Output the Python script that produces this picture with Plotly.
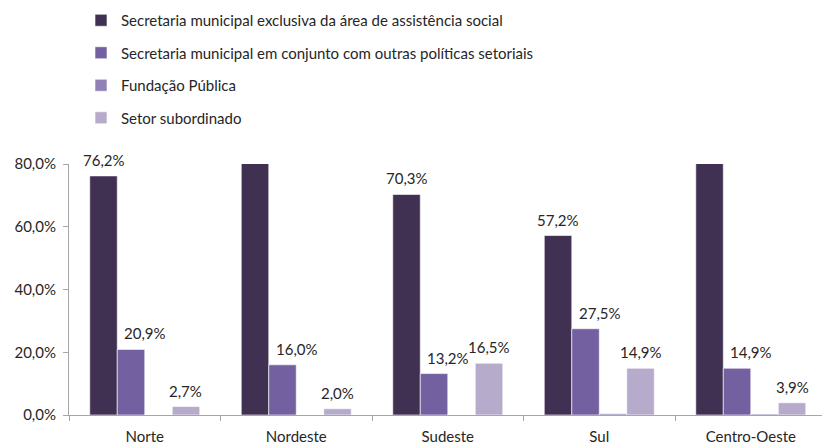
import plotly.graph_objects as go

# Regions and share of municipalities by type of management body (%)
regioes = ["Norte", "Nordeste", "Sudeste", "Sul", "Centro-Oeste"]
series_nomes = [
    "Secretaria municipal exclusiva da área de assistência social",
    "Secretaria municipal em conjunto com outras políticas setoriais",
    "Fundação Pública",
    "Setor subordinado",
]
sec_exclusiva = [76.2, 82.0, 70.3, 57.2, 80.9]
sec_conjunto = [20.9, 16.0, 13.2, 27.5, 14.9]
fundacao = [0.0, 0.0, 0.0, 0.4, 0.3]
setor_subordinado = [2.7, 2.0, 16.5, 14.9, 3.9]

valores = [sec_exclusiva, sec_conjunto, fundacao, setor_subordinado]
cores = ["#403152", "#7360A0", "#8F80B5", "#B6ABCB"]

Y_MAX = 80.0
FONTE = "Lato, 'Open Sans', sans-serif"
COR_TEXTO = "#262626"
TAM = 15

fig = go.Figure()
for i, (nome, vals, cor) in enumerate(zip(series_nomes, valores, cores)):
    fig.add_trace(go.Bar(
        x=regioes, y=vals, name=nome,
        marker=dict(color=cor, line=dict(color="white", width=0.6)),
        legendgroup=f"g{i}",
    ))

# Value labels above bars (skipped for bars cut at the axis top and for empty bars)
n = len(series_nomes)
cat_px = 151.5
grupo_px = cat_px * (1 - 0.274)
bar_px = grupo_px / n
desloc_extra = [0, 14, 0, 0]
for i, vals in enumerate(valores):
    if i == 2:
        continue
    xs = (i - (n - 1) / 2) * bar_px + desloc_extra[i]
    for reg, v in zip(regioes, vals):
        if v > Y_MAX:
            continue
        fig.add_annotation(
            x=reg, y=v, text=f"{v:.1f}%".replace(".", ","),
            showarrow=False, xshift=xs, yshift=16, yanchor="middle",
            font=dict(size=TAM, color=COR_TEXTO, family=FONTE),
        )

fig.update_layout(
    width=822, height=445,
    margin=dict(l=69, r=0, t=164, b=30),
    paper_bgcolor="white", plot_bgcolor="white",
    barmode="group", bargap=0.274, bargroupgap=0,
    separators=",.",
    font=dict(family=FONTE, size=TAM, color=COR_TEXTO),
    showlegend=True,
    legend=dict(
        x=(81 - 69) / (822 - 69), xref="paper", xanchor="left",
        y=1 - 4 / 445, yref="container", yanchor="top",
        traceorder="grouped", tracegroupgap=10,
        font=dict(size=TAM, color=COR_TEXTO, family=FONTE),
        bgcolor="rgba(0,0,0,0)",
    ),
)

fig.update_xaxes(
    range=[-0.5, 4.47], showline=True, linecolor="#A6A6A6", linewidth=1,
    ticks="outside", tickson="boundaries", ticklen=5, tickcolor="#A6A6A6",
    ticklabelstandoff=8,
    showgrid=False, tickfont=dict(size=TAM, color=COR_TEXTO),
)
fig.update_yaxes(
    range=[0, Y_MAX], dtick=20, tickformat=".1f", ticksuffix="%",
    showline=True, linecolor="#A6A6A6", linewidth=1,
    ticks="outside", ticklen=5, tickcolor="#A6A6A6",
    ticklabelstandoff=4,
    showgrid=False, zeroline=False, tickfont=dict(size=TAM, color=COR_TEXTO),
)

fig.write_html("out.html")
